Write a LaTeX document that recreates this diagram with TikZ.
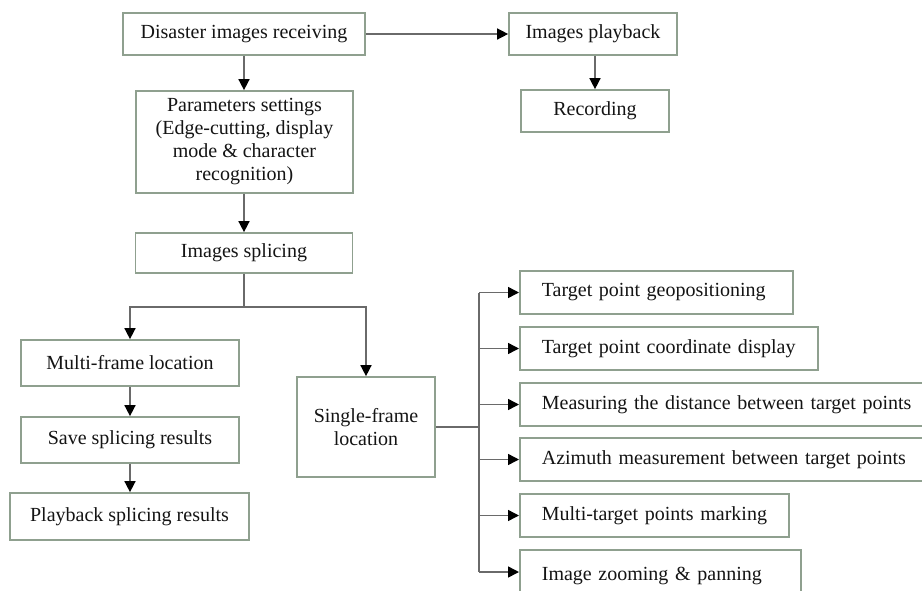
\documentclass[tikz,border=0pt]{standalone}
\usepackage{fontspec}
\setmainfont{Liberation Serif}
\usetikzlibrary{arrows.meta}
\definecolor{boxline}{HTML}{8FA08F}
\definecolor{wire}{HTML}{6A6A6A}
\definecolor{ink}{HTML}{141414}
\begin{document}
\begin{tikzpicture}[x=1pt,y=-1pt,
  box/.style={draw=boxline, line width=1.7pt, fill=white, inner sep=0pt,
    text=ink, font=\fontsize{20}{23}\selectfont, align=center},
  sidebox/.style={box, anchor=west, align=left, inner xsep=22pt, minimum height=43pt},
  flow/.style={draw=wire, line width=1.5pt, -{Triangle[length=11pt,width=11pt,color=black]}},
  wireline/.style={draw=wire, line width=1.5pt}]
\useasboundingbox (0,0) rectangle (922,590);

% main column
\node[box, minimum width=242pt, minimum height=42pt] (recv) at (244,34) {Disaster images receiving};
\node[box, minimum width=168pt, minimum height=42pt] (play) at (593,34) {Images playback};
\node[box, minimum width=148pt, minimum height=42pt] (rec) at (595,111) {Recording};
\node[box, minimum width=217pt, minimum height=102pt] (param) at (244.5,142)
  {Parameters settings\\(Edge-cutting, display\\mode \& character\\recognition)};
\node[box, minimum width=217pt, minimum height=40pt] (splice) at (244,253) {Images splicing};

% left branch
\node[box, minimum width=218pt, minimum height=46pt] (multi) at (130,363) {Multi-frame location};
\node[box, minimum width=218pt, minimum height=46pt] (save) at (130,440) {Save splicing results};
\node[box, minimum width=239pt, minimum height=47pt] (pbs) at (129.5,516.5) {Playback splicing results};

% right branch
\node[box, minimum width=138pt, minimum height=100pt] (single) at (366,427) {Single-frame\\location};

\node[sidebox, text width=229pt] (t1) at (519,292.5) {\mbox{Target point geopositioning}};
\node[sidebox, text width=254pt] (t2) at (519,348.5) {\mbox{Target point coordinate display}};
\node[sidebox, text width=400pt] (t3) at (519,404.5) {\mbox{Measuring the distance between target points}};
\node[sidebox, text width=400pt] (t4) at (519,459.5) {\mbox{Azimuth measurement between target points}};
\node[sidebox, text width=225pt] (t5) at (519,515.5) {\mbox{Multi-target points marking}};
\node[sidebox, text width=237pt, minimum height=52pt] (t6) at (519,576) {\mbox{Image zooming \& panning}};

% connectors
\coordinate (split) at (244,307);
\coordinate (bus) at (479,427);
\draw[flow] (recv.east) -- (play.west);
\draw[flow] (play.south -| rec.north) -- (rec.north);
\draw[flow] (recv.south) -- (param.north -| recv.south);
\draw[flow] (param.south -| splice.north) -- (splice.north);
\draw[wireline] (splice.south) -- (split);
\draw[flow] (split) -| (multi.north);
\draw[flow] (split) -| (single.north);
\draw[flow] (multi.south) -- (save.north);
\draw[flow] (save.south) -- (pbs.north -| save.south);
\draw[wireline] (single.east) -- (bus);
\draw[wireline] (bus |- t1.west) -- (bus |- 0,572);
\foreach \t in {t1,t2,t3,t4,t5} {
  \draw[flow] (bus |- \t.west) -- (\t.west);
}
\draw[flow] (bus |- 0,572) -- (t6.west |- 0,572);
\end{tikzpicture}
\end{document}
